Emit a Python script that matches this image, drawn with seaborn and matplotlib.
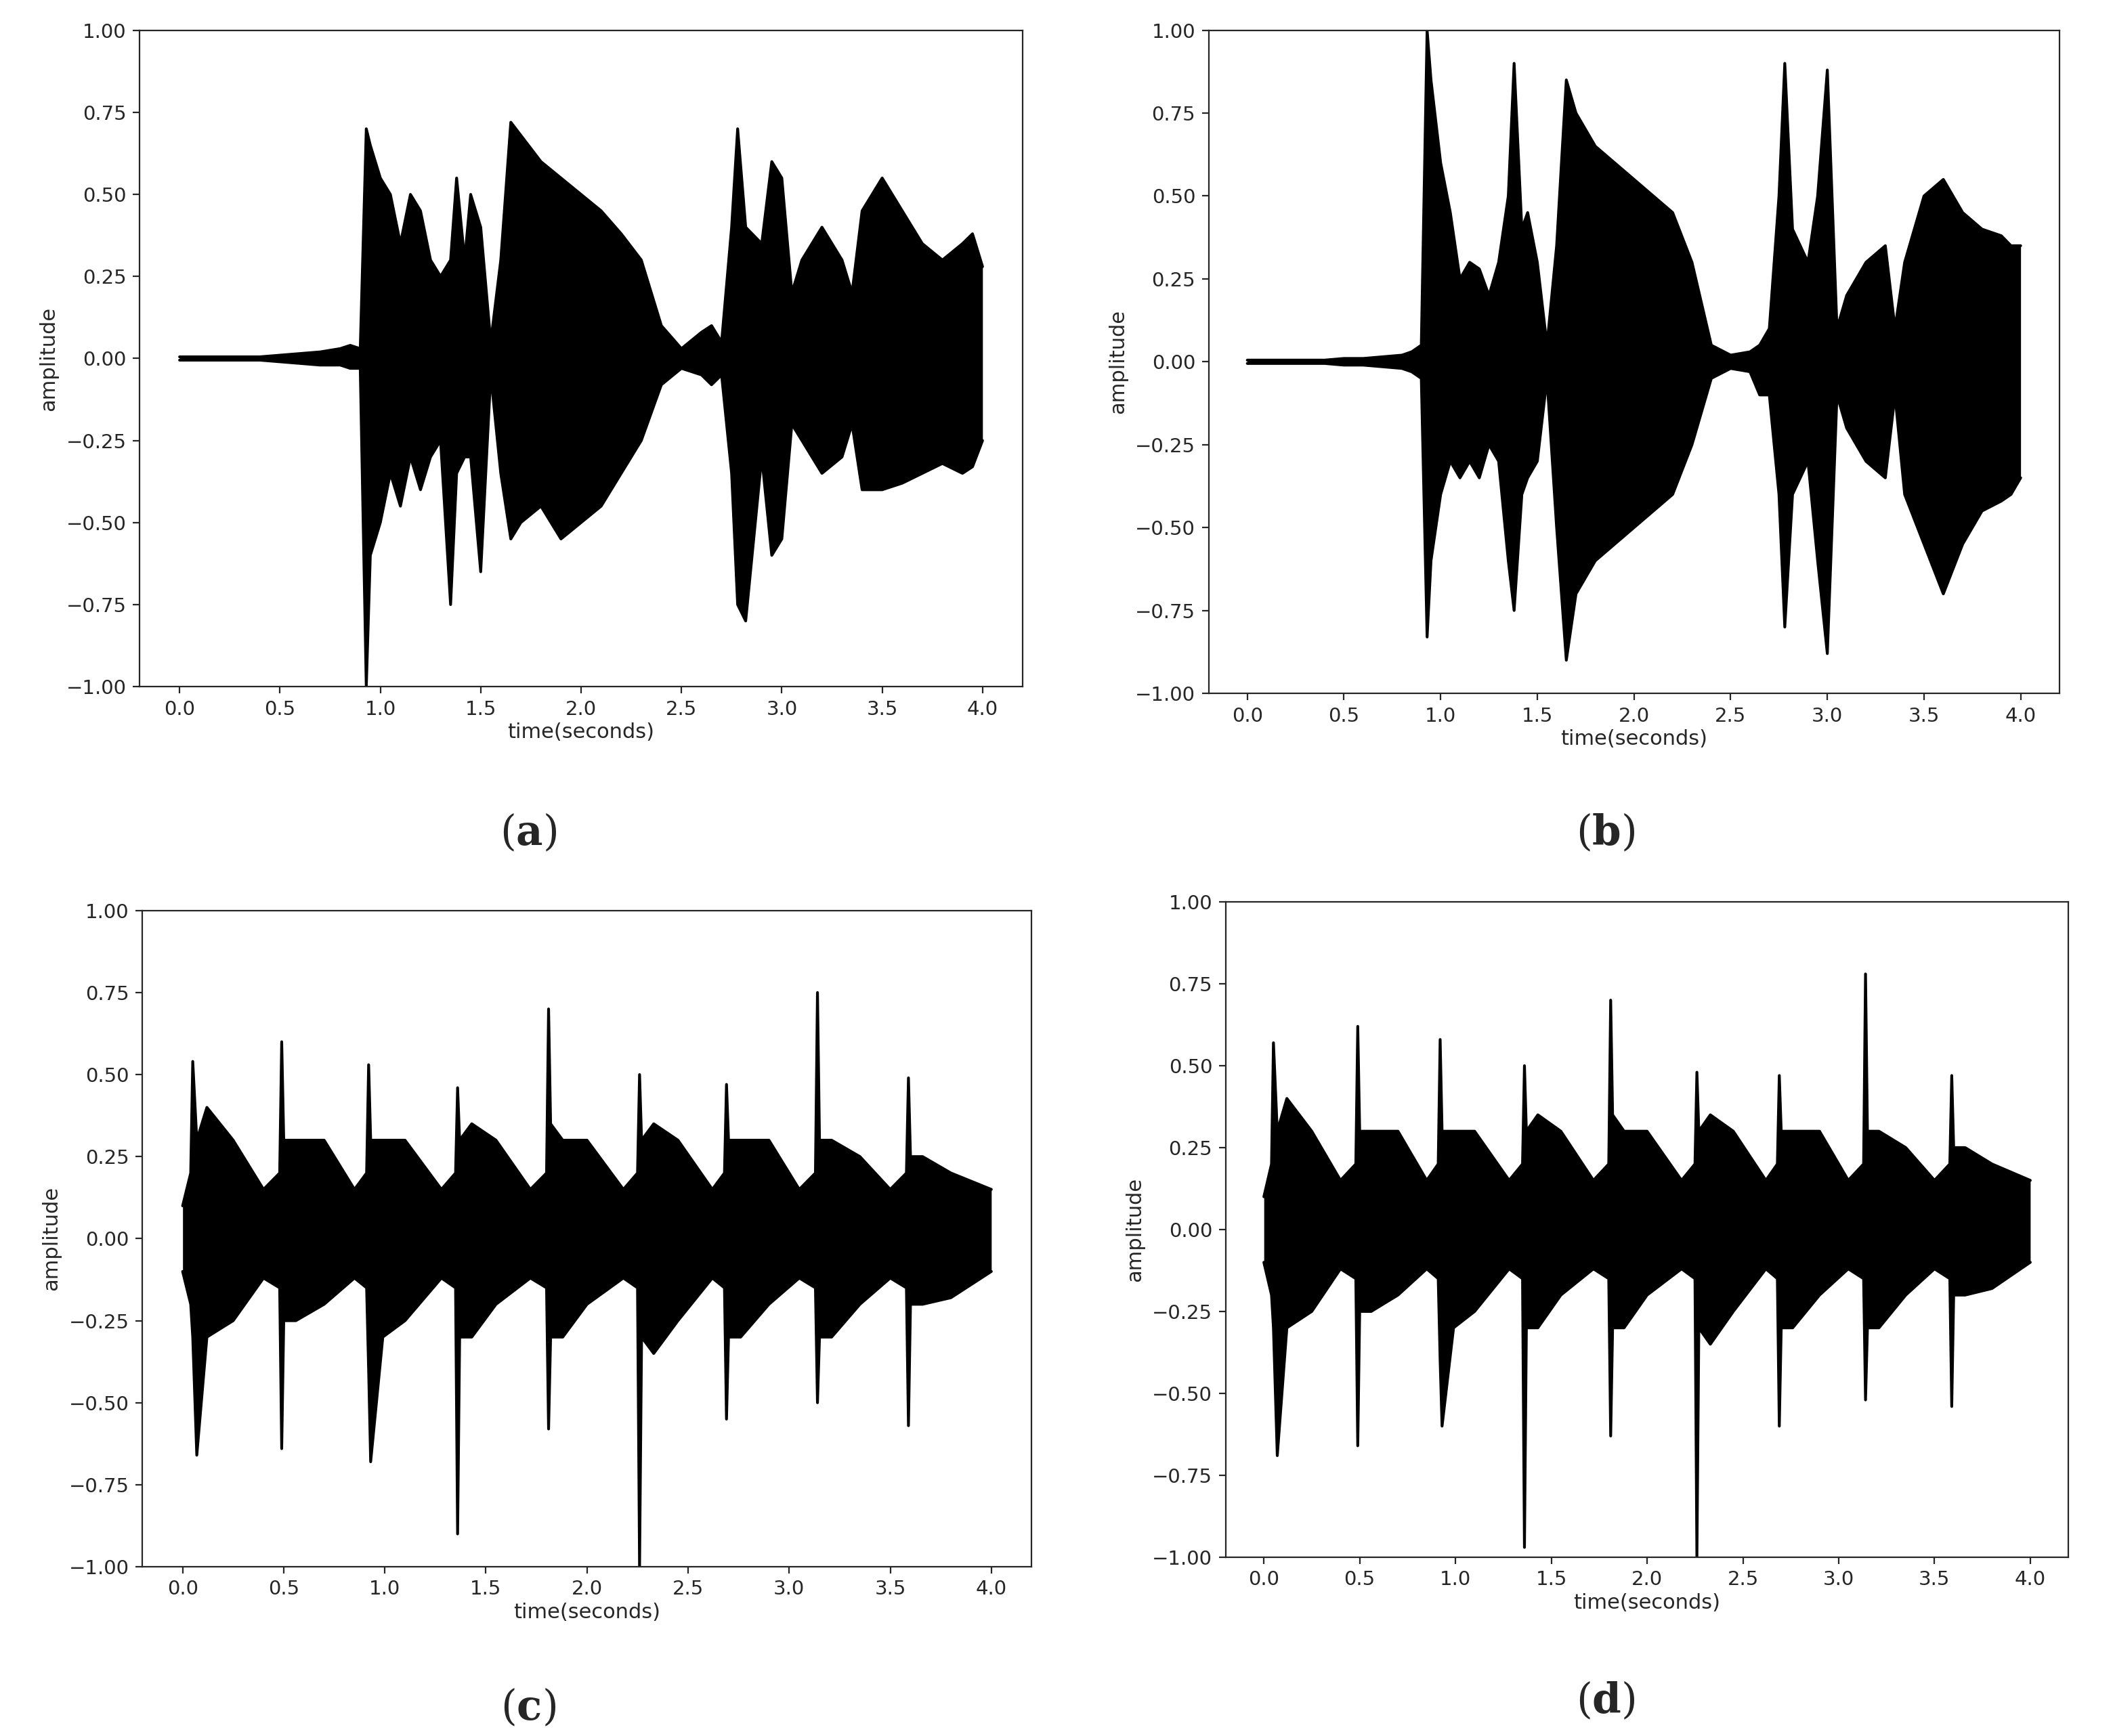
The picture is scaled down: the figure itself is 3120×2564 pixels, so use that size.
import numpy as np
import pandas as pd
import seaborn as sns
import matplotlib.pyplot as plt

# ─────────────────────────────────────────
# DATA: waveform envelopes (time, upper, lower)
# ─────────────────────────────────────────
a_time  = [0.0, 0.4, 0.5, 0.6, 0.7, 0.8, 0.85, 0.9, 0.93, 0.95, 1.0, 1.05, 1.1, 1.15, 1.2,
           1.25, 1.3, 1.35, 1.38, 1.42, 1.45, 1.5, 1.55, 1.6, 1.65, 1.7, 1.8, 1.9, 2.0, 2.1,
           2.2, 2.3, 2.4, 2.5, 2.6, 2.65, 2.7, 2.75, 2.78, 2.82, 2.9, 2.95, 3.0, 3.05, 3.1,
           3.2, 3.3, 3.35, 3.4, 3.5, 3.6, 3.7, 3.8, 3.9, 3.95, 4.0]
a_upper = [0.005, 0.005, 0.01, 0.015, 0.02, 0.03, 0.04, 0.03, 0.7, 0.65, 0.55, 0.5, 0.35, 0.5, 0.45,
           0.3, 0.25, 0.3, 0.55, 0.3, 0.5, 0.4, 0.05, 0.3, 0.72, 0.68, 0.6, 0.55, 0.5, 0.45,
           0.38, 0.3, 0.1, 0.03, 0.08, 0.1, 0.05, 0.4, 0.7, 0.4, 0.35, 0.6, 0.55, 0.2, 0.3,
           0.4, 0.3, 0.2, 0.45, 0.55, 0.45, 0.35, 0.3, 0.35, 0.38, 0.28]
a_lower = [-0.005, -0.005, -0.01, -0.015, -0.02, -0.02, -0.03, -0.03, -1.0, -0.6, -0.5, -0.35, -0.45, -0.3, -0.4,
           -0.3, -0.25, -0.75, -0.35, -0.3, -0.3, -0.65, -0.05, -0.35, -0.55, -0.5, -0.45, -0.55, -0.5, -0.45,
           -0.35, -0.25, -0.08, -0.03, -0.05, -0.08, -0.05, -0.35, -0.75, -0.8, -0.3, -0.6, -0.55, -0.2, -0.25,
           -0.35, -0.3, -0.2, -0.4, -0.4, -0.38, -0.35, -0.32, -0.35, -0.33, -0.25]

b_upper = [0.005, 0.005, 0.01, 0.01, 0.015, 0.02, 0.03, 0.05, 1.0, 0.85, 0.6, 0.45, 0.25, 0.3, 0.28,
           0.2, 0.3, 0.5, 0.9, 0.4, 0.45, 0.3, 0.05, 0.35, 0.85, 0.75, 0.65, 0.6, 0.55, 0.5,
           0.45, 0.3, 0.05, 0.02, 0.03, 0.05, 0.1, 0.5, 0.9, 0.4, 0.3, 0.5, 0.88, 0.1, 0.2,
           0.3, 0.35, 0.1, 0.3, 0.5, 0.55, 0.45, 0.4, 0.38, 0.35, 0.35]
b_lower = [-0.005, -0.005, -0.01, -0.01, -0.015, -0.02, -0.03, -0.05, -0.83, -0.6, -0.4, -0.3, -0.35, -0.3, -0.35,
           -0.25, -0.3, -0.6, -0.75, -0.4, -0.35, -0.3, -0.05, -0.5, -0.9, -0.7, -0.6, -0.55, -0.5, -0.45,
           -0.4, -0.25, -0.05, -0.02, -0.03, -0.1, -0.1, -0.4, -0.8, -0.4, -0.3, -0.6, -0.88, -0.1, -0.2,
           -0.3, -0.35, -0.1, -0.4, -0.55, -0.7, -0.55, -0.45, -0.42, -0.4, -0.35]

cd_time  = [0.0, 0.04, 0.05, 0.07, 0.12, 0.25, 0.4,
            0.48, 0.49, 0.5, 0.56, 0.7, 0.85,
            0.91, 0.92, 0.93, 0.99, 1.1, 1.28,
            1.35, 1.36, 1.37, 1.43, 1.55, 1.72,
            1.8, 1.81, 1.82, 1.88, 2.0, 2.18,
            2.25, 2.26, 2.27, 2.33, 2.45, 2.62,
            2.68, 2.69, 2.7, 2.76, 2.9, 3.05,
            3.13, 3.14, 3.15, 3.21, 3.35, 3.5,
            3.58, 3.59, 3.6, 3.66, 3.8, 4.0]
c_upper = [0.1, 0.2, 0.54, 0.3, 0.4, 0.3, 0.15,
           0.2, 0.6, 0.3, 0.3, 0.3, 0.15,
           0.2, 0.53, 0.3, 0.3, 0.3, 0.15,
           0.2, 0.46, 0.3, 0.35, 0.3, 0.15,
           0.2, 0.7, 0.35, 0.3, 0.3, 0.15,
           0.2, 0.5, 0.3, 0.35, 0.3, 0.15,
           0.2, 0.47, 0.3, 0.3, 0.3, 0.15,
           0.2, 0.75, 0.3, 0.3, 0.25, 0.15,
           0.2, 0.49, 0.25, 0.25, 0.2, 0.15]
c_lower = [-0.1, -0.2, -0.3, -0.66, -0.3, -0.25, -0.12,
           -0.15, -0.64, -0.25, -0.25, -0.2, -0.12,
           -0.15, -0.4, -0.68, -0.3, -0.25, -0.12,
           -0.15, -0.9, -0.3, -0.3, -0.2, -0.12,
           -0.15, -0.58, -0.3, -0.3, -0.2, -0.12,
           -0.15, -1.0, -0.3, -0.35, -0.25, -0.12,
           -0.15, -0.55, -0.3, -0.3, -0.2, -0.12,
           -0.15, -0.5, -0.3, -0.3, -0.2, -0.12,
           -0.15, -0.57, -0.2, -0.2, -0.18, -0.1]
d_upper = [0.1, 0.2, 0.57, 0.3, 0.4, 0.3, 0.15,
           0.2, 0.62, 0.3, 0.3, 0.3, 0.15,
           0.2, 0.58, 0.3, 0.3, 0.3, 0.15,
           0.2, 0.5, 0.3, 0.35, 0.3, 0.15,
           0.2, 0.7, 0.35, 0.3, 0.3, 0.15,
           0.2, 0.48, 0.3, 0.35, 0.3, 0.15,
           0.2, 0.47, 0.3, 0.3, 0.3, 0.15,
           0.2, 0.78, 0.3, 0.3, 0.25, 0.15,
           0.2, 0.47, 0.25, 0.25, 0.2, 0.15]
d_lower = [-0.1, -0.2, -0.3, -0.69, -0.3, -0.25, -0.12,
           -0.15, -0.66, -0.25, -0.25, -0.2, -0.12,
           -0.15, -0.4, -0.6, -0.3, -0.25, -0.12,
           -0.15, -0.97, -0.3, -0.3, -0.2, -0.12,
           -0.15, -0.63, -0.3, -0.3, -0.2, -0.12,
           -0.15, -1.0, -0.3, -0.35, -0.25, -0.12,
           -0.15, -0.6, -0.3, -0.3, -0.2, -0.12,
           -0.15, -0.52, -0.3, -0.3, -0.2, -0.12,
           -0.15, -0.54, -0.2, -0.2, -0.18, -0.1]

panels = [
    ("a", a_time,  a_upper, a_lower, [0.066, 0.6045, 0.418, 0.378], (0.25, 0.508)),
    ("b", a_time,  b_upper, b_lower, [0.572, 0.6006, 0.4026, 0.382], (0.76, 0.508)),
    ("c", cd_time, c_upper, c_lower, [0.0673, 0.0975, 0.421, 0.378], (0.25, 0.004)),
    ("d", cd_time, d_upper, d_lower, [0.580, 0.103, 0.399, 0.3775], (0.76, 0.008)),
]

# ─────────────────────────────────────────
# PLOT
# ─────────────────────────────────────────
sns.set_style("ticks")
plt.rcParams['font.family'] = ['DejaVu Sans']
plt.rcParams['mathtext.fontset'] = 'dejavuserif'

fig = plt.figure(figsize=(15.6, 12.82), dpi=200)

for letter, t, up, lo, rect, lab_pos in panels:
    ax = fig.add_axes(rect)
    df = pd.DataFrame({"time": t, "upper": up, "lower": lo})
    ax.fill_between(df["time"], df["lower"], df["upper"], color="black", linewidth=0)
    sns.lineplot(data=df, x="time", y="upper", ax=ax, color="black", linewidth=1.5)
    sns.lineplot(data=df, x="time", y="lower", ax=ax, color="black", linewidth=1.5)
    ax.set_xlim(-0.2, 4.2)
    ax.set_ylim(-1, 1)
    ax.set_xticks(np.arange(0, 4.01, 0.5))
    ax.set_yticks(np.arange(-1, 1.01, 0.25))
    ax.set_xticklabels([f"{v:.1f}" for v in np.arange(0, 4.01, 0.5)])
    ax.set_yticklabels([f"{v:.2f}".replace("-", "\u2212") for v in np.arange(-1, 1.01, 0.25)])
    ax.tick_params(labelsize=10.5)
    ax.set_xlabel("time(seconds)", fontsize=11, labelpad=2)
    ax.set_ylabel("amplitude", fontsize=11)
    for s in ax.spines.values():
        s.set_linewidth(0.8)
    fig.text(lab_pos[0], lab_pos[1], r"$(\mathbf{" + letter + r"})$", fontsize=22,
             ha="center", va="bottom")

plt.savefig("out.png", dpi=200)
